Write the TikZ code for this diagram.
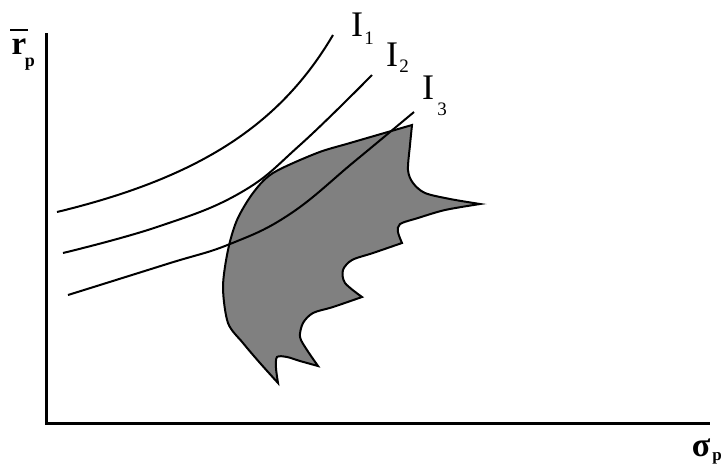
\documentclass[tikz,border=0pt]{standalone}
\usepackage{fontspec}
\setmainfont{Liberation Serif}
\begin{document}
\begin{tikzpicture}[x=1pt,y=-1pt,
  axis/.style={line width=3pt},
  icurve/.style={line width=2pt,line join=round},
  region/.style={fill=gray,draw=black,line width=2pt,line join=miter},
  lblI/.style={inner sep=0pt,font=\fontsize{36}{36}\selectfont},
  lblsub/.style={inner sep=0pt,font=\fontsize{19}{19}\selectfont}]
\useasboundingbox (0,0) rectangle (723,467);
% axes
\coordinate (top) at (46,33);
\coordinate (origin) at (46,423);
\coordinate (right) at (710,423);
\draw[axis] (top) -- (origin) -- (right);
% feasible region
\filldraw[region]
  plot[smooth] coordinates {(412,125) (350,143) (317,153) (273,173) (253,193) (237,220) (228,250) (223,287) (228,323) (243,343) (260,363) (278,383)}
  -- plot[smooth] coordinates {(278,383) (276,368) (277,357) (287,357) (300,361) (318,366)}
  -- plot[smooth] coordinates {(318,366) (307,350) (300,337) (303,323) (313,313) (333,307) (362,297)}
  -- plot[smooth] coordinates {(362,297) (345,283) (343,270) (352,260) (373,253) (402,243)}
  -- plot[smooth] coordinates {(402,243) (398,232) (400,224) (418,218) (445,210) (480,204)}
  -- plot[smooth] coordinates {(480,204) (450,199) (425,193) (413,183) (408,170) (410,145) (412,125)}
  -- cycle;
% indifference curves
\draw[icurve] plot[domain=57:333,samples=80,variable=\t] (\t,{319.11-474.5/((500-\t)/100)});
\draw[icurve] plot[smooth,tension=0.7] coordinates {(63,253) (157,227) (240,193) (300,145) (372,75)};
\draw[icurve] plot[smooth,tension=0.7] coordinates {(68,295) (167,264) (230,244) (290,214) (355,161) (414,112)};
% curve labels
\node[lblI] (i1) at (357,25) {I};
\node[lblsub] (i1s) at (369,38) {1};
\node[lblI] (i2) at (392,55) {I};
\node[lblsub] (i2s) at (404,66) {2};
\node[lblI] (i3) at (428,88) {I};
\node[lblsub] (i3s) at (442,109) {3};
% axis labels
\node[inner sep=0pt,font=\fontsize{33}{33}\selectfont\bfseries] (rlab) at (19,47) {r};
\coordinate (barL) at (10,30);
\coordinate (barR) at (28,30);
\draw[line width=2.5pt] (barL) -- (barR);
\node[inner sep=0pt,font=\fontsize{18}{18}\selectfont\bfseries] (rsub) at (30,64) {p};
\node[inner sep=0pt,font=\fontsize{34}{34}\selectfont\bfseries] (slab) at (701,448) {σ};
\node[inner sep=0pt,font=\fontsize{17}{17}\selectfont\bfseries] (ssub) at (717,458) {p};
\end{tikzpicture}
\end{document}
